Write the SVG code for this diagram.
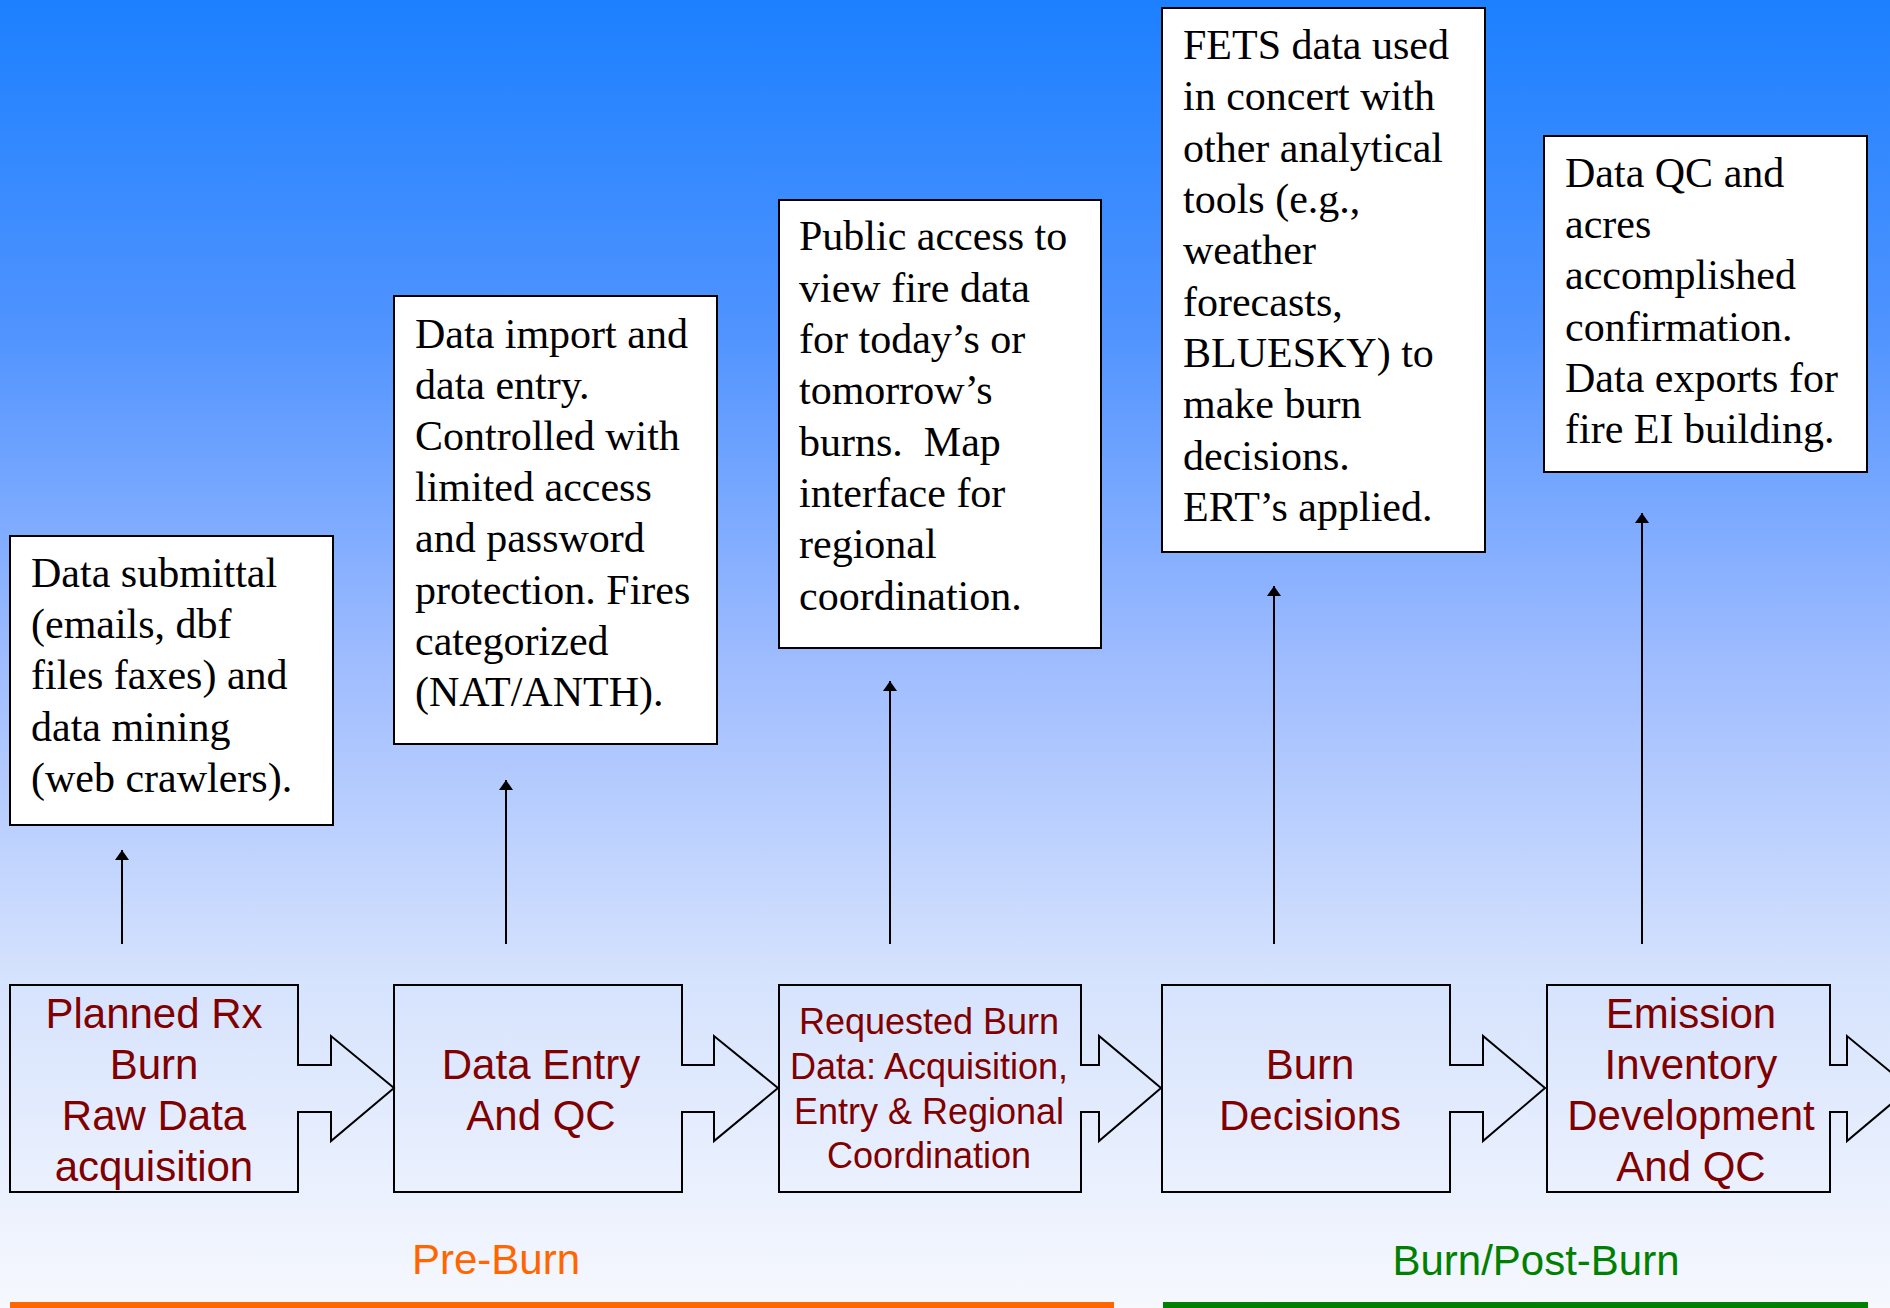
<svg xmlns="http://www.w3.org/2000/svg" width="1890" height="1308" viewBox="0 0 1890 1308">
<defs>
<linearGradient id="bg" x1="0" y1="0" x2="0" y2="1">
<stop offset="0" stop-color="#1c80ff"/>
<stop offset="0.25" stop-color="#4f93ff"/>
<stop offset="0.5" stop-color="#9dbbff"/>
<stop offset="0.75" stop-color="#d6e3fd"/>
<stop offset="1" stop-color="#f6f8fe"/>
</linearGradient>
<marker id="ah" viewBox="0 0 10 14" refX="10" refY="7" markerWidth="10" markerHeight="14" markerUnits="userSpaceOnUse" orient="auto">
<path d="M0,0 L10,7 L0,14 Z" fill="#000"/>
</marker>
<style>
.note{fill:#fff;stroke:#000;stroke-width:2}
.nt{font-family:"Liberation Serif","Times New Roman",serif;font-size:42px;fill:#000}
.step{fill:none;stroke:#000;stroke-width:2;stroke-linejoin:miter}
.st{font-family:"Liberation Sans",Arial,sans-serif;font-size:42px;fill:#800000;text-anchor:middle}
.st2{font-family:"Liberation Sans",Arial,sans-serif;font-size:36px;fill:#800000;text-anchor:middle}
.conn{stroke:#000;stroke-width:2;fill:none}
.phase{font-family:"Liberation Sans",Arial,sans-serif;font-size:42px;text-anchor:middle}
</style>
</defs>
<rect x="0" y="0" width="1890" height="1308" fill="url(#bg)"/>

<g id="note-submittal">
<rect class="note" x="10" y="536" width="323" height="289"/>
<text class="nt" x="31"><tspan x="31" y="587">Data submittal</tspan><tspan x="31" y="638">(emails, dbf</tspan><tspan x="31" y="689">files faxes) and</tspan><tspan x="31" y="741">data mining</tspan><tspan x="31" y="792">(web crawlers).</tspan></text>
</g>

<g id="note-import">
<rect class="note" x="394" y="296" width="323" height="448"/>
<text class="nt"><tspan x="415" y="348">Data import and</tspan><tspan x="415" y="399">data entry.</tspan><tspan x="415" y="450">Controlled with</tspan><tspan x="415" y="501">limited access</tspan><tspan x="415" y="552">and password</tspan><tspan x="415" y="604">protection. Fires</tspan><tspan x="415" y="655">categorized</tspan><tspan x="415" y="706">(NAT/ANTH).</tspan></text>
</g>

<g id="note-public">
<rect class="note" x="779" y="200" width="322" height="448"/>
<text class="nt"><tspan x="799" y="250">Public access to</tspan><tspan x="799" y="302">view fire data</tspan><tspan x="799" y="353">for today’s or</tspan><tspan x="799" y="404">tomorrow’s</tspan><tspan x="799" y="456">burns.&#160; Map</tspan><tspan x="799" y="507">interface for</tspan><tspan x="799" y="558">regional</tspan><tspan x="799" y="610">coordination.</tspan></text>
</g>

<g id="note-fets">
<rect class="note" x="1162" y="8" width="323" height="544"/>
<text class="nt"><tspan x="1183" y="59">FETS data used</tspan><tspan x="1183" y="110">in concert with</tspan><tspan x="1183" y="162">other analytical</tspan><tspan x="1183" y="213">tools (e.g.,</tspan><tspan x="1183" y="264">weather</tspan><tspan x="1183" y="316">forecasts,</tspan><tspan x="1183" y="367">BLUESKY) to</tspan><tspan x="1183" y="418">make burn</tspan><tspan x="1183" y="470">decisions.</tspan><tspan x="1183" y="521">ERT’s applied.</tspan></text>
</g>

<g id="note-qc">
<rect class="note" x="1544" y="136" width="323" height="336"/>
<text class="nt"><tspan x="1565" y="187">Data QC and</tspan><tspan x="1565" y="238">acres</tspan><tspan x="1565" y="289">accomplished</tspan><tspan x="1565" y="341">confirmation.</tspan><tspan x="1565" y="392">Data exports for</tspan><tspan x="1565" y="443">fire EI building.</tspan></text>
</g>

<g id="step-planned">
<path class="step" d="M10,985 H298 V1065 H331 V1036 L394,1088 L331,1141 V1112 H298 V1192 H10 Z"/>
<text class="st"><tspan x="154" y="1028">Planned Rx</tspan><tspan x="154" y="1079">Burn</tspan><tspan x="154" y="1130">Raw Data</tspan><tspan x="154" y="1181">acquisition</tspan></text>
</g>

<g id="step-entry">
<path class="step" d="M394,985 H682 V1065 H714 V1036 L778,1088 L714,1141 V1112 H682 V1192 H394 Z"/>
<text class="st"><tspan x="541" y="1079">Data Entry</tspan><tspan x="541" y="1130">And QC</tspan></text>
</g>

<g id="step-requested">
<path class="step" d="M779,985 H1081 V1065 H1099 V1036 L1161,1088 L1099,1141 V1112 H1081 V1192 H779 Z"/>
<text class="st2"><tspan x="929" y="1034">Requested Burn</tspan><tspan x="929" y="1079">Data: Acquisition,</tspan><tspan x="929" y="1124">Entry &amp; Regional</tspan><tspan x="929" y="1168">Coordination</tspan></text>
</g>

<g id="step-decisions">
<path class="step" d="M1162,985 H1450 V1065 H1483 V1036 L1545,1088 L1483,1141 V1112 H1450 V1192 H1162 Z"/>
<text class="st"><tspan x="1310" y="1079">Burn</tspan><tspan x="1310" y="1130">Decisions</tspan></text>
</g>

<g id="step-emission">
<path class="step" d="M1547,985 H1830 V1065 H1847 V1036 L1910,1088 L1847,1141 V1112 H1830 V1192 H1547 Z"/>
<text class="st"><tspan x="1691" y="1028">Emission</tspan><tspan x="1691" y="1079">Inventory</tspan><tspan x="1691" y="1130">Development</tspan><tspan x="1691" y="1181">And QC</tspan></text>
</g>

<g id="connectors">
<line class="conn" x1="122" y1="944" x2="122" y2="850" marker-end="url(#ah)"/>
<line class="conn" x1="506" y1="944" x2="506" y2="780" marker-end="url(#ah)"/>
<line class="conn" x1="890" y1="944" x2="890" y2="681" marker-end="url(#ah)"/>
<line class="conn" x1="1274" y1="944" x2="1274" y2="586" marker-end="url(#ah)"/>
<line class="conn" x1="1642" y1="944" x2="1642" y2="513" marker-end="url(#ah)"/>
</g>

<g id="phase-pre">
<text class="phase" x="496" y="1274" fill="#ff6600">Pre-Burn</text>
<rect x="10" y="1302" width="1104" height="8" fill="#ff6600"/>
</g>
<g id="phase-post">
<text class="phase" x="1536" y="1275" fill="#008000">Burn/Post-Burn</text>
<rect x="1163" y="1302" width="705" height="8" fill="#008000"/>
</g>
</svg>
